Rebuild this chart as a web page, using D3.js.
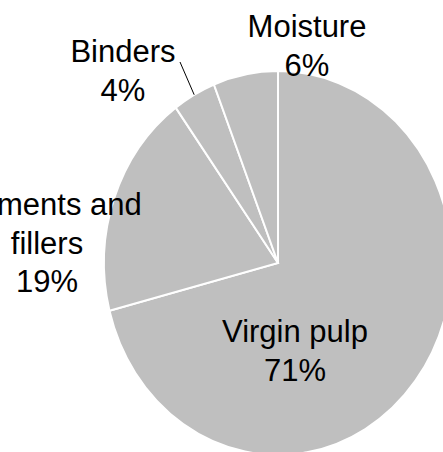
<!DOCTYPE html>
<html>
<head>
<meta charset="utf-8">
<script src="https://cdn.jsdelivr.net/npm/d3@7"></script>
<style>
  html, body { margin: 0; padding: 0; background: #fff; }
  svg { display: block; }
  text { font-family: "Liberation Sans", Arial, sans-serif; font-size: 31px; fill: #000; }
</style>
</head>
<body>
<div id="chart"></div>
<script>
// data
const categories = ["Virgin pulp", "Pigments and fillers", "Binders", "Moisture"];
const values = [71, 19, 4, 6];
const labelLines = [["Virgin pulp", "71%"], ["Pigments and", "fillers", "19%"], ["Binders", "4%"], ["Moisture", "6%"]];

// layout (label anchors: centre x, first baseline)
const w = 443, h = 452;
const cx = 278, cy = 263;
const ry = 192, rx = 174;
const labelPos = [[295, 342], [47, 215], [123, 62], [307, 37]];
const lineH = 38.7;

const svg = d3.select("#chart").append("svg")
  .attr("width", w)
  .attr("height", h);

const pie = d3.pie().sort(null).value(d => d);
const arcs = pie(values);
const arc = d3.arc().innerRadius(0).outerRadius(ry);

// the pie is a bit squashed horizontally in the original
const g = svg.append("g")
  .attr("transform", "translate(" + cx + "," + cy + ") scale(" + (rx / ry) + ",1)");

g.selectAll("path")
  .data(arcs)
  .enter().append("path")
  .attr("d", arc)
  .attr("fill", "#bfbfbf")
  .attr("stroke", "#fff")
  .attr("stroke-width", 2)
  .attr("vector-effect", "non-scaling-stroke");

// leader line for Binders
const edge = d3.arc().innerRadius(ry).outerRadius(ry);
const bi = categories.indexOf("Binders");
const ep = edge.centroid(arcs[bi]);
svg.append("line")
  .attr("x1", labelPos[bi][0] + 57)
  .attr("y1", labelPos[bi][1])
  .attr("x2", cx + ep[0] * rx / ry)
  .attr("y2", cy + ep[1])
  .attr("stroke", "#000")
  .attr("stroke-width", 1);

// labels
labelLines.forEach((lines, i) => {
  const t = svg.append("text")
    .attr("text-anchor", "middle")
    .attr("x", labelPos[i][0])
    .attr("y", labelPos[i][1]);
  lines.forEach((s, j) => {
    t.append("tspan")
      .attr("x", labelPos[i][0])
      .attr("y", labelPos[i][1] + j * lineH)
      .text(s);
  });
});
</script>
</body>
</html>
